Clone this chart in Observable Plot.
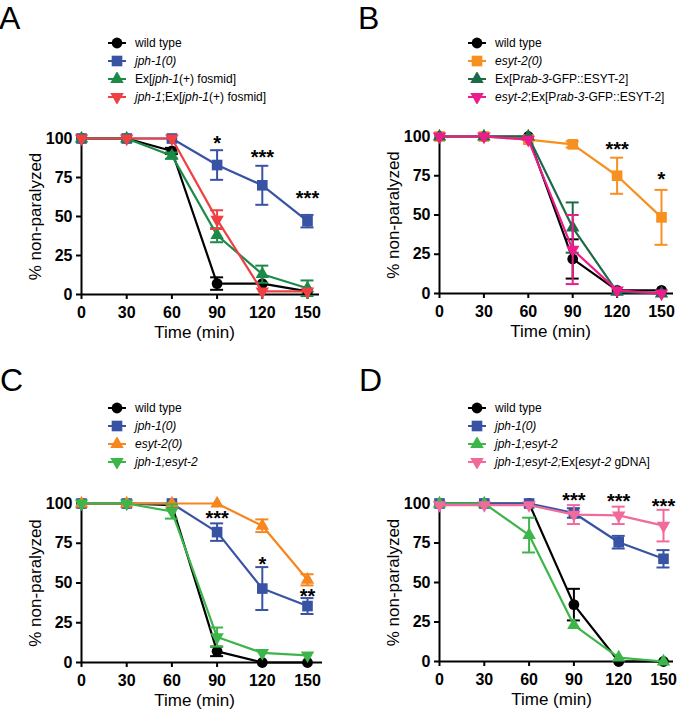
<!DOCTYPE html>
<html><head><meta charset="utf-8">
<script src="https://cdn.jsdelivr.net/npm/d3@7"></script>
<script src="https://cdn.jsdelivr.net/npm/@observablehq/plot@0.6"></script>
<style>
body{margin:0;background:#fff;font-family:"Liberation Sans",Arial,sans-serif;color:#000;}
#fig{position:relative;width:679px;height:710px;overflow:hidden;background:#fff;}
.letter{position:absolute;font-size:32px;line-height:normal;}
.legend{position:absolute;font-size:12px;line-height:18px;}
.legend .row{display:flex;align-items:center;height:18px;white-space:nowrap;}
.legend svg{margin-right:8px;flex:none;}
.panel{position:absolute;}
</style></head><body><div id="fig"></div>
<script>
// ---------- shared data ----------
const times = [0, 30, 60, 90, 120, 150];
const yTicks = [0, 25, 50, 75, 100];
const xTitle = "Time (min)";
const yTitle = "% non-paralyzed";

// ---------- Panel A ----------
const namesA = ["wild type", "<i>jph-1(0)</i>", "Ex[<i>jph-1</i>(+) fosmid]", "<i>jph-1</i>;Ex[<i>jph-1</i>(+) fosmid]"];
const colorsA = ["#000000", "#3953a4", "#1b8a48", "#ef4043"];
const symbolsA = ["circle", "square", "triangle", "triangleDown"];
const meansA = [
  [100, 100, 92, 7, 7, 2],
  [100, 100, 100, 83, 70, 47],
  [100, 100, 89, 38, 13, 4],
  [100, 100, 100, 48, 2, 2]
];
const errsA = [
  [0, 0, 2, 4, 0, 0],
  [0, 0, 0, 9.5, 12.5, 4],
  [0, 0, 2, 4.5, 5.5, 5],
  [0, 0, 0, 6, 0, 0]
];
const starTimesA = [90, 120, 150];
const starYA = [100, 91, 65];
const starLabelsA = ["*", "***", "***"];

// ---------- Panel B ----------
const namesB = ["wild type", "<i>esyt-2(0)</i>", "Ex[P<i>rab-3</i>-GFP::ESYT-2]", "<i>esyt-2</i>;Ex[P<i>rab-3</i>-GFP::ESYT-2]"];
const colorsB = ["#000000", "#f7901e", "#1c6b48", "#ec1c8c"];
const symbolsB = ["circle", "square", "triangle", "triangleDown"];
const meansB = [
  [100, 100, 100, 22, 2, 2],
  [100, 100, 98, 95, 75, 48.5],
  [100, 100, 100, 42, 1, 0],
  [100, 100, 98, 28, 2, 0]
];
const errsB = [
  [0, 0, 0, 12.5, 0, 0],
  [0, 0, 0, 2, 11.5, 17.5],
  [0, 0, 0, 16, 0, 0],
  [0, 0, 0, 22, 0, 0]
];
const starTimesB = [120, 150];
const starYB = [95, 76];
const starLabelsB = ["***", "*"];

// ---------- Panel C ----------
const namesC = ["wild type", "<i>jph-1(0)</i>", "<i>esyt-2(0)</i>", "<i>jph-1;esyt-2</i>"];
const colorsC = ["#000000", "#3953a4", "#f7861f", "#3cb54a"];
const symbolsC = ["circle", "square", "triangle", "triangleDown"];
const meansC = [
  [100, 100, 99, 7, 0, 0],
  [100, 100, 100, 82, 46.5, 35.5],
  [100, 100, 100, 100, 86, 52],
  [100, 100, 95, 16, 6, 4.5]
];
const errsC = [
  [0, 0, 0, 3, 0, 0],
  [0, 0, 0, 5.5, 13.5, 5],
  [0, 0, 0, 0, 4, 3.5],
  [0, 0, 4.5, 6, 0, 0]
];
const starTimesC = [90, 120, 150];
const starYC = [93.5, 64.5, 44.5];
const starLabelsC = ["***", "*", "**"];

// ---------- Panel D ----------
const namesD = ["wild type", "<i>jph-1(0)</i>", "<i>jph-1;esyt-2</i>", "<i>jph-1;esyt-2;</i>Ex[<i>esyt-2</i> gDNA]"];
const colorsD = ["#000000", "#3953a4", "#3cb54a", "#f06b9b"];
const symbolsD = ["circle", "square", "triangle", "triangleDown"];
const meansD = [
  [100, 100, 100, 36, 0, 0],
  [100, 100, 100, 94, 75.5, 65],
  [100, 100, 80, 23, 2.5, 0],
  [99, 99, 99, 93, 92.5, 86]
];
const errsD = [
  [0, 0, 0, 10, 0, 0],
  [0, 0, 0, 3, 4, 5.5],
  [0, 0, 11, 0, 0, 0],
  [0, 0, 0, 6, 5.5, 10]
];
const starTimesD = [90, 120, 150];
const starYD = [105, 104.5, 101];
const starLabelsD = ["***", "***", "***"];

// ---------- layout (pixels) ----------
const layouts = [
  {letter: "A", lx: -1, ly: 0, legX: 107, legY: 34, left: 0, top: 110, width: 340, height: 240, x0: 81, x150: 307, xEnd: 319, y100: 138, y0: 294},
  {letter: "B", lx: 358, ly: 0, legX: 467, legY: 34, left: 340, top: 110, width: 339, height: 240, x0: 439, x150: 661, xEnd: 673, y100: 136, y0: 293},
  {letter: "C", lx: 0, ly: 362, legX: 107, legY: 399, left: 0, top: 470, width: 340, height: 240, x0: 81, x150: 307, xEnd: 322, y100: 503, y0: 662},
  {letter: "D", lx: 359, ly: 362, legX: 467, legY: 399, left: 340, top: 470, width: 339, height: 240, x0: 439, x150: 663, xEnd: 673, y100: 503, y0: 661}
];
const panels = [
  {names: namesA, colors: colorsA, symbols: symbolsA, means: meansA, errs: errsA, st: starTimesA, sy: starYA, sl: starLabelsA},
  {names: namesB, colors: colorsB, symbols: symbolsB, means: meansB, errs: errsB, st: starTimesB, sy: starYB, sl: starLabelsB},
  {names: namesC, colors: colorsC, symbols: symbolsC, means: meansC, errs: errsC, st: starTimesC, sy: starYC, sl: starLabelsC},
  {names: namesD, colors: colorsD, symbols: symbolsD, means: meansD, errs: errsD, st: starTimesD, sy: starYD, sl: starLabelsD}
];

const sqrt3 = Math.sqrt(3);
const triangleDown = {
  draw(ctx, size) {
    const y = -Math.sqrt(size / (sqrt3 * 3));
    ctx.moveTo(0, -y * 2);
    ctx.lineTo(-sqrt3 * y, y);
    ctx.lineTo(sqrt3 * y, y);
    ctx.closePath();
  }
};
const symbolTypes = {circle: d3.symbolCircle, square: d3.symbolSquare, triangle: d3.symbolTriangle, triangleDown};
const symbolR = {circle: 5.4, square: 6, triangle: 5, triangleDown: 5};
const capPx = 6.5;

const fig = document.getElementById("fig");

layouts.forEach((L, k) => {
  const p = panels[k];
  // letter
  const let_ = document.createElement("div");
  let_.className = "letter";
  let_.style.left = L.lx + "px";
  let_.style.top = L.ly + "px";
  let_.textContent = L.letter;
  fig.appendChild(let_);

  // legend
  const leg = d3.select(fig).append("div").attr("class", "legend")
    .style("left", L.legX + "px").style("top", L.legY + "px");
  p.names.forEach((n, i) => {
    const row = leg.append("div").attr("class", "row");
    const s = row.append("svg").attr("width", 20).attr("height", 14);
    s.append("line").attr("x1", 1).attr("x2", 19).attr("y1", 7).attr("y2", 7)
      .attr("stroke", p.colors[i]).attr("stroke-width", 2);
    const r = symbolR[p.symbols[i]];
    s.append("path").attr("transform", "translate(10,7)")
      .attr("d", d3.symbol(symbolTypes[p.symbols[i]], r * r * Math.PI)())
      .attr("fill", p.colors[i]);
    row.append("span").html(n);
  });

  // plot
  const pxPerUnit = (L.x150 - L.x0) / 150;
  const xMax = (L.xEnd - L.x0) / pxPerUnit;
  const capHalf = capPx / pxPerUnit;
  const data = p.names.flatMap((name, i) => times.map((t, j) => ({s: i, t, v: p.means[i][j], e: p.errs[i][j]})));
  const stars = p.st.map((t, i) => ({t, y: p.sy[i], label: p.sl[i]}));

  const marks = [
    Plot.ruleX([0], {y1: 0, y2: 100, strokeWidth: 2}),
    Plot.ruleY([0], {x1: 0, x2: xMax, strokeWidth: 2}),
    Plot.axisY(yTicks, {tickSize: 5, tickPadding: 4, strokeWidth: 2, fontSize: 16, fontWeight: "bold", label: null}),
    Plot.axisX(times, {tickSize: 5, tickPadding: 7, strokeWidth: 2, fontSize: 16, fontWeight: "bold", label: null}),
    Plot.text([yTitle], {frameAnchor: "left", y: 50, rotate: -90, dx: -46, textAnchor: "middle", lineAnchor: "middle", fontSize: 17, fontWeight: "normal"}),
    Plot.text([xTitle], {x: d3.mean(times), frameAnchor: "bottom", dy: 38, textAnchor: "middle", lineAnchor: "middle", fontSize: 17, fontWeight: "normal"})
  ];
  p.names.forEach((n, i) => {
    const d = data.filter(r => r.s === i);
    const eb = d.filter(r => r.e > 0);
    const c = p.colors[i];
    marks.push(Plot.line(d, {x: "t", y: "v", stroke: c, strokeWidth: 2.2}));
    marks.push(Plot.ruleX(eb, {x: "t", y1: r => r.v - r.e, y2: r => r.v + r.e, stroke: c, strokeWidth: 2}));
    marks.push(Plot.ruleY(eb, {y: r => r.v + r.e, x1: r => r.t - capHalf, x2: r => r.t + capHalf, stroke: c, strokeWidth: 2}));
    marks.push(Plot.ruleY(eb, {y: r => r.v - r.e, x1: r => r.t - capHalf, x2: r => r.t + capHalf, stroke: c, strokeWidth: 2}));
    marks.push(Plot.dot(d, {x: "t", y: "v", fill: c, stroke: "none", symbol: symbolTypes[p.symbols[i]], r: symbolR[p.symbols[i]]}));
  });
  marks.push(Plot.text(stars, {x: "t", y: "y", text: "label", fontSize: 20, fontWeight: "bold", lineAnchor: "middle", dy: 5}));

  const chart = Plot.plot({
    width: L.width,
    height: L.height,
    marginLeft: L.x0 - L.left,
    marginRight: L.left + L.width - L.xEnd,
    marginTop: L.y100 - L.top,
    marginBottom: L.top + L.height - L.y0,
    x: {domain: [0, xMax], label: null},
    y: {domain: [0, 100], label: null},
    style: {fontFamily: "'Liberation Sans', Arial, sans-serif", fontSize: "16px", fontWeight: "bold", color: "#000", background: "transparent", overflow: "visible"},
    marks
  });
  const wrap = document.createElement("div");
  wrap.className = "panel";
  wrap.style.left = L.left + "px";
  wrap.style.top = L.top + "px";
  wrap.appendChild(chart);
  fig.appendChild(wrap);
});
</script>
</body></html>
